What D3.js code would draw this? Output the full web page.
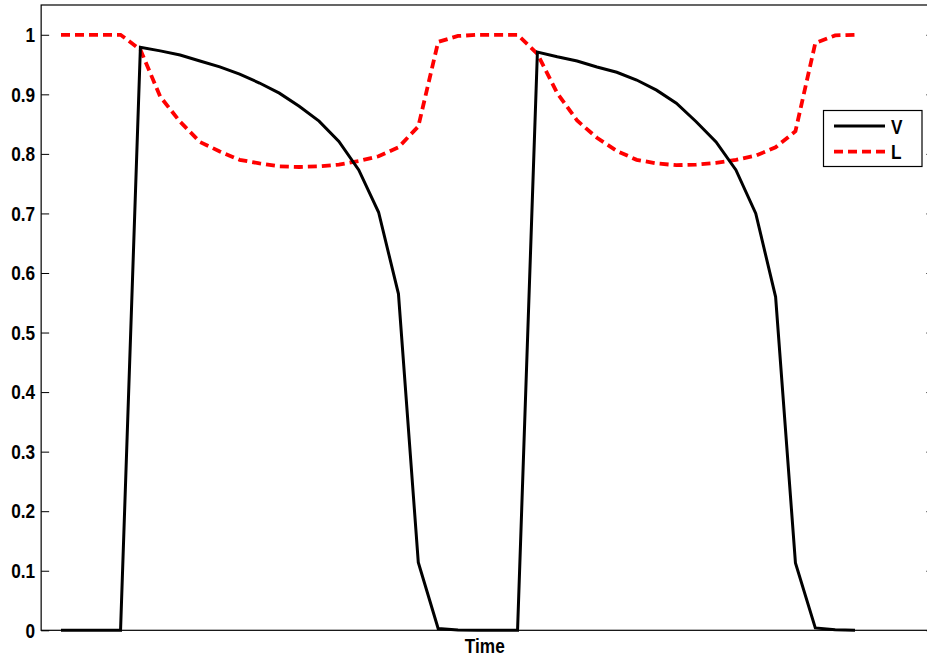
<!DOCTYPE html>
<html lang="en">
<head>
<meta charset="utf-8">
<script src="https://d3js.org/d3.v7.min.js"></script>
<style>
  body { margin: 0; background: #fff; }
  svg text { font-family: "Liberation Sans", Arial, sans-serif; font-weight: bold; }
  .line { fill: none; }
</style>
</head>
<body>
<svg id="chart" width="927" height="658"></svg>
<script>
// time samples
var timeSteps = d3.range(1, 42);

// V series
var vValues = [0, 0, 0, 0,
  0.979, 0.973, 0.966, 0.956, 0.946, 0.934, 0.919, 0.902, 0.880, 0.855, 0.821, 0.773, 0.702, 0.565, 0.114, 0.003, 0.0005,
  0, 0, 0,
  0.971, 0.963, 0.956, 0.946, 0.937, 0.924, 0.907, 0.885, 0.854, 0.820, 0.773, 0.700, 0.560, 0.113, 0.004, 0.001, 0];

// L series
var lValues = [1, 1, 1, 1,
  0.975, 0.896, 0.854, 0.820, 0.804, 0.790, 0.784, 0.779, 0.778, 0.779, 0.782, 0.788, 0.796, 0.811, 0.846, 0.988, 0.998,
  1, 1, 1,
  0.968, 0.902, 0.856, 0.827, 0.805, 0.790, 0.784, 0.781, 0.782, 0.785, 0.790, 0.797, 0.811, 0.838, 0.986, 0.999, 1];

var yTicks = d3.range(0, 11).map(function(i) { return i / 10; });
var seriesNames = ["V", "L"];

var narrow = 0.82; // condensed look of the original font

var svg = d3.select("#chart");

var x = d3.scaleLinear().domain([0, 45]).range([41.15, 934.4]);
var y = d3.scaleLinear().domain([0, 1.05]).range([630.3, 5]);

// axes box
svg.append("rect")
  .attr("x", x(0)).attr("y", y(1.05))
  .attr("width", x(45) - x(0)).attr("height", y(0) - y(1.05))
  .attr("fill", "none").attr("stroke", "#000").attr("stroke-width", 1.2);

var yAxis = svg.append("g")
  .attr("transform", "translate(" + x(0) + ",0)")
  .call(d3.axisLeft(y).tickValues(yTicks).tickSizeInner(-8).tickSizeOuter(0).tickPadding(6)
    .tickFormat(function(d) { return String(+d.toFixed(1)); }));
yAxis.select(".domain").remove();
yAxis.selectAll("text")
  .attr("x", 0)
  .attr("transform", "translate(-6,0) scale(" + narrow + ",1)")
  .style("font-size", "21px").attr("fill", "#000");
yAxis.selectAll("line").attr("stroke-width", 1);

var yAxisR = svg.append("g")
  .attr("transform", "translate(" + x(45) + ",0)")
  .call(d3.axisRight(y).tickValues(yTicks).tickSizeInner(-8).tickSizeOuter(0).tickFormat(""));
yAxisR.select(".domain").remove();

var line = d3.line()
  .x(function(d, i) { return x(timeSteps[i]); })
  .y(function(d) { return y(d); });

svg.append("path")
  .attr("class", "line")
  .attr("d", line(lValues))
  .attr("stroke", "#ff0000")
  .attr("stroke-width", 3.8)
  .attr("stroke-dasharray", "9,5");

svg.append("path")
  .attr("class", "line")
  .attr("d", line(vValues))
  .attr("stroke", "#000")
  .attr("stroke-width", 3)
  .attr("stroke-linejoin", "miter");

// x label
svg.append("text")
  .attr("transform", "translate(" + ((x(0) + x(45)) / 2 - 3) + ",653) scale(" + narrow + ",1)")
  .attr("text-anchor", "middle")
  .style("font-size", "21px")
  .text("Time");

// legend
var legend = svg.append("g");
legend.append("rect")
  .attr("x", 823.5).attr("y", 110.5).attr("width", 98.5).attr("height", 56)
  .attr("fill", "#fff").attr("stroke", "#000").attr("stroke-width", 1.2);

var legendStyles = [
  { stroke: "#000", width: 3, dash: null },
  { stroke: "#ff0000", width: 3.8, dash: "9,5" }
];
seriesNames.forEach(function(name, i) {
  var ly = 126 + i * 25.7;
  legend.append("line")
    .attr("x1", 834).attr("x2", 885)
    .attr("y1", ly).attr("y2", ly)
    .attr("stroke", legendStyles[i].stroke)
    .attr("stroke-width", legendStyles[i].width)
    .attr("stroke-dasharray", legendStyles[i].dash);
  legend.append("text")
    .attr("transform", "translate(891," + ly + ") scale(" + narrow + ",1)")
    .attr("dy", "0.36em")
    .style("font-size", "21px")
    .text(name);
});
</script>
</body>
</html>
